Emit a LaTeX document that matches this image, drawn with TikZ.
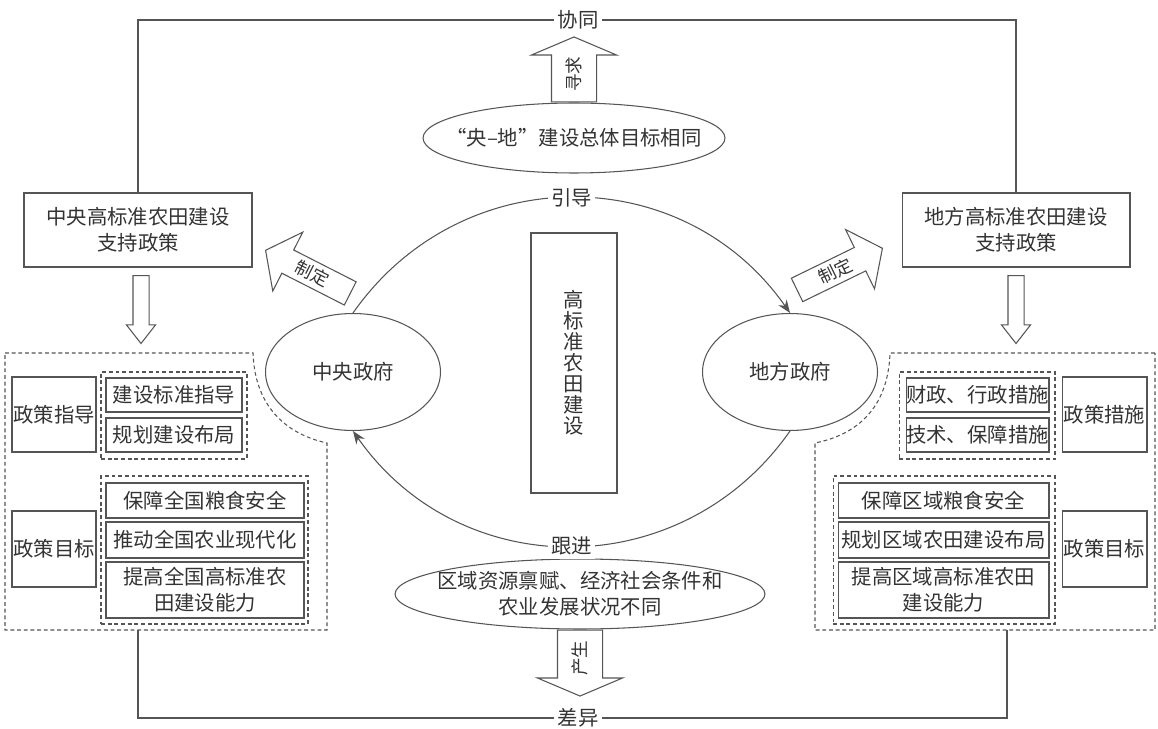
\documentclass[tikz,border=0pt]{standalone}
\usepackage{fontspec}
\setmainfont{Noto Sans CJK SC}
\definecolor{linegray}{HTML}{555555}
\definecolor{textgray}{HTML}{333333}
\usetikzlibrary{arrows.meta,shapes.geometric,shapes.arrows}
\tikzset{
  every node/.style={text=textgray,font=\fontsize{11.6}{14.8}\selectfont},
  box/.style={draw=linegray,inner sep=0pt,align=center},
  dbox/.style={draw=linegray,dash pattern=on 2.2pt off 1.6pt,inner sep=0pt},
  govt/.style={ellipse,draw=linegray,minimum width=3.5cm,minimum height=2.34cm},
  hollow/.style={single arrow,draw=linegray,fill=white,inner sep=0pt,single arrow head indent=0pt,font=\fontsize{10}{12}\selectfont},
  bigarrow/.style={hollow,text height=0.57cm,text depth=0.31cm,single arrow head extend=0.4cm,single arrow tip angle=134},
  setarrow/.style={hollow,text height=0.38cm,text depth=0.12cm,minimum height=1.9cm,single arrow head extend=0.4cm,single arrow tip angle=106},
  thinarrow/.style={hollow,text height=0.3cm,text depth=0cm,minimum height=1.36cm,single arrow head extend=0.13cm,single arrow tip angle=76},
  tag/.style={fill=white,inner sep=2pt}
}
\begin{document}
\begin{tikzpicture}[x=0.02cm,y=-0.02cm,line width=0.6pt,color=linegray]
\useasboundingbox (0,0) rectangle (1158,729);
% policy boxes
\node[box,minimum width=4.56cm,minimum height=1.48cm] (zc) at (138,230) {中央高标准农田建设\\支持政策};
\node[box,minimum width=4.56cm,minimum height=1.48cm] (dc) at (1016,230) {地方高标准农田建设\\支持政策};
\node[govt] (zy) at (353,372) {中央政府};
\node[govt] (df) at (790,372) {地方政府};
\node[box,minimum width=1.72cm,minimum height=5.2cm,font=\fontsize{11.6}{12}\selectfont] (gb) at (574,363) {高\\标\\准\\农\\田\\建\\设};
\node[ellipse,draw,minimum width=6.04cm,minimum height=1.4cm,label=center:{“央–地”建设总体目标相同}] (mb) at (574,138) {};
\node[ellipse,draw,minimum width=7.4cm,minimum height=1.4cm,label={[align=center]center:区域资源禀赋、经济社会条件和\\农业发展状况不同}] (bb) at (580,594) {};
% outer frame
\node[tag] (xt) at (578,20) {协同};
\node[tag] (cy) at (578,718) {差异};
\coordinate (lb) at (138,630);
\coordinate (rb) at (1007,630);
\draw (zc.north) |- (xt.west);
\draw (xt.east) -| (dc.north);
\draw (lb) |- (cy.west);
\draw (cy.east) -| (rb);
% arcs
\draw[-{Stealth[length=2.6mm,width=2mm]}] (zy.north) to[out=55,in=125,looseness=1.1] node[tag] {引导} (df.north);
\draw[-{Stealth[length=2.6mm,width=2mm]}] (df.south) to[out=-125,in=-55,looseness=1.1] node[tag] {跟进} (zy.south);
% hollow arrows
\node[bigarrow,rotate=90,anchor=tail,minimum height=1.3cm] (xq) at (mb.north) {寻求};
\node[bigarrow,rotate=90,shape border rotate=180,anchor=tail,minimum height=1.32cm] (cs) at (bb.south) {产生};
\node[setarrow,rotate=-27,shape border rotate=180,anchor=tip] (zd1) at (265,250) {制定};
\node[setarrow,rotate=26,anchor=tip] (zd2) at (883,248) {制定};
\node[thinarrow,rotate=-90,anchor=tail] (zx) at (141,275) {};
\node[thinarrow,rotate=-90,anchor=tail] (dx) at (1016,275) {};
% dashed regions
\draw[dash pattern=on 2.2pt off 1.6pt] (5,353) -- (253,353) .. controls (255,410) and (290,435) .. (327,443) -- (327,630) -- (5,630) -- cycle;
\draw[dash pattern=on 2.2pt off 1.6pt] (1155,353) -- (890,353) .. controls (888,410) and (855,435) .. (815,443) -- (815,630) -- (1155,630) -- cycle;
% central side
\node[box,minimum width=1.68cm,minimum height=1.5cm] (zzd) at (54,414.5) {政策指导};
\node[dbox,minimum width=2.92cm,minimum height=1.74cm] (zg1) at (174,415.5) {};
\node[box,minimum width=2.72cm,minimum height=0.68cm] (zjs) at (174,395) {建设标准指导};
\node[box,minimum width=2.72cm,minimum height=0.68cm] (zgh) at (174,435) {规划建设布局};
\node[box,minimum width=1.68cm,minimum height=1.52cm] (zmb) at (54,549) {政策目标};
\node[dbox,minimum width=4.14cm,minimum height=2.96cm] (zg2) at (204.5,550) {};
\node[box,minimum width=3.96cm,minimum height=0.7cm] (zlb) at (205,500.5) {保障全国粮食安全};
\node[box,minimum width=3.96cm,minimum height=0.72cm] (zxd) at (205,540) {推动全国农业现代化};
\node[box,minimum width=3.96cm,minimum height=1.12cm] (zng) at (205,590) {提高全国高标准农\\田建设能力};
% local side
\node[dbox,minimum width=3.12cm,minimum height=1.74cm] (dg1) at (977,415.5) {};
\node[box,minimum width=2.86cm,minimum height=0.68cm] (dcz) at (977.5,395) {财政、行政措施};
\node[box,minimum width=2.86cm,minimum height=0.68cm] (djs) at (977.5,435) {技术、保障措施};
\node[box,minimum width=1.7cm,minimum height=1.5cm] (dcs) at (1104.5,414.5) {政策措施};
\node[dbox,minimum width=4.44cm,minimum height=2.96cm] (dg2) at (944,550) {};
\node[box,minimum width=4.22cm,minimum height=0.7cm] (dlb) at (943.5,500.5) {保障区域粮食安全};
\node[box,minimum width=4.22cm,minimum height=0.72cm] (dgh) at (943.5,540) {规划区域农田建设布局};
\node[box,minimum width=4.22cm,minimum height=1.12cm] (dng) at (943.5,590) {提高区域高标准农田\\建设能力};
\node[box,minimum width=1.7cm,minimum height=1.52cm] (dmb) at (1104.5,549) {政策目标};
\end{tikzpicture}
\end{document}
